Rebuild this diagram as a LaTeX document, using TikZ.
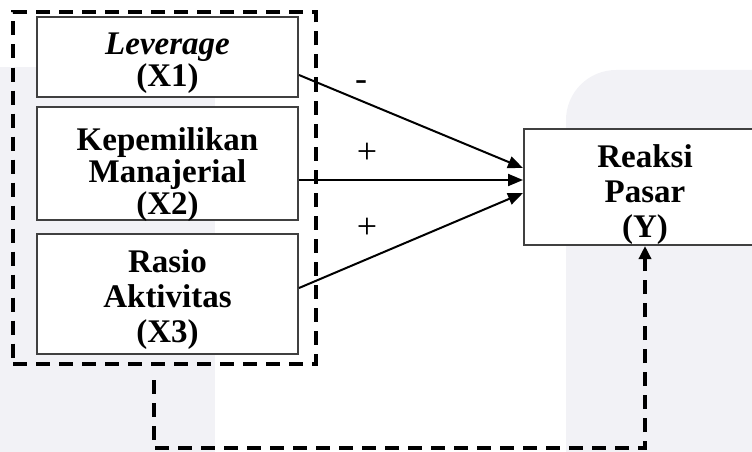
\documentclass[tikz,border=0pt]{standalone}
\usepackage{fontspec}
\setmainfont{Liberation Serif}
\usetikzlibrary{arrows.meta}

\definecolor{wmgray}{HTML}{F2F2F6}

\tikzset{
  varbox/.style={draw=black!75, line width=2pt, fill=white, minimum width=261pt},
  vartext/.style={align=center, font=\fontsize{33}{35}\selectfont\bfseries},
  dashgroup/.style={draw=black, line width=4pt, dash pattern=on 14pt off 9pt, minimum width=303pt, minimum height=351pt},
  effect/.style={line width=2pt, -{Triangle[length=15pt,width=12pt]}},
  feedback/.style={line width=4pt, dash pattern=on 14pt off 9pt, -{Triangle[length=13pt,width=12pt]}},
  sign/.style={font=\fontsize{36}{36}\selectfont}
}

\begin{document}
\begin{tikzpicture}[x=1pt, y=-1pt]
      \useasboundingbox (0,0) rectangle (752,452);
      % faint background
      \fill[wmgray] (0,67) rectangle (215,452);
      \fill[wmgray, rounded corners=50pt] (566,70) rectangle (820,520);
      % variables
      \node[dashgroup] (group) at (164.5,188) {};
      \node[varbox, minimum height=80pt, label={[vartext, font=\fontsize{33}{32}\selectfont\bfseries, yshift=-6pt]center:{\textit{Leverage}\\(X1)}}] (x1) at (167.5,57) {};
      \node[varbox, minimum height=113pt, label={[vartext, font=\fontsize{33}{32}\selectfont\bfseries, yshift=-11pt]center:{Kepemilikan\\Manajerial\\(X2)}}] (x2) at (167.5,163.5) {};
      \node[varbox, minimum height=120pt, label={[vartext, yshift=-6pt]center:{Rasio\\Aktivitas\\(X3)}}] (x3) at (167.5,294) {};
      \node[varbox, minimum width=242pt, minimum height=116pt, label={[vartext, yshift=-8pt]center:{Reaksi\\Pasar\\(Y)}}] (y) at (645,187) {};
      % paths
      \draw[effect] ([yshift=-18pt]x1.east) -- ([yshift=19pt]y.west);
      \draw[effect] ([yshift=-16.5pt]x2.east) -- ([yshift=7pt]y.west);
      \draw[effect] ([yshift=6pt]x3.east) -- ([yshift=-6pt]y.west);
      \node[sign] (sgn1) at (361,86) {-};
      \node[sign] (sgn2) at (367,153) {+};
      \node[sign] (sgn3) at (367,228) {+};
      % feedback
      \coordinate (fbstart) at (154,380);
      \coordinate (fbcorner) at (154,448);
      \draw[feedback] (fbstart) -- (fbcorner) -| (y.south);
    \end{tikzpicture}
\end{document}
